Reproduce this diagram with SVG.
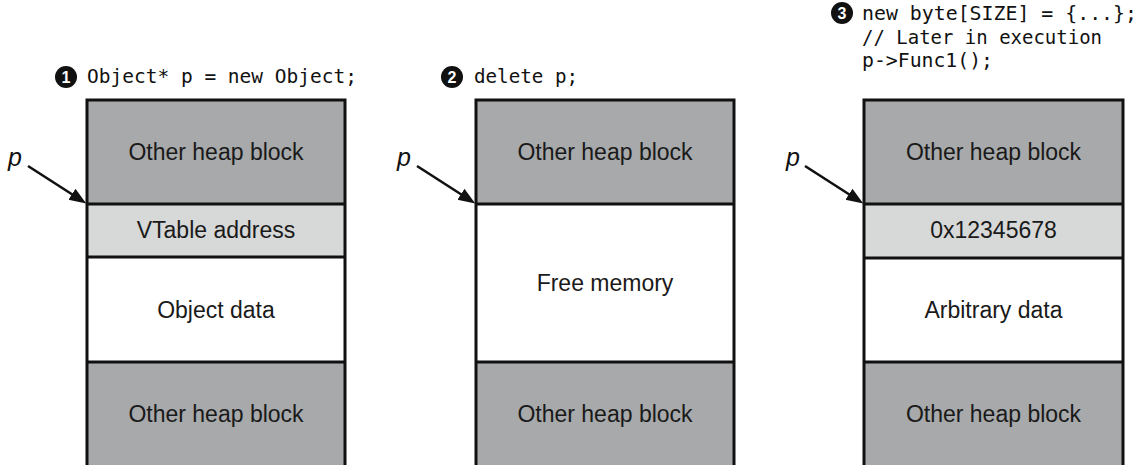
<svg xmlns="http://www.w3.org/2000/svg" width="1141" height="465" viewBox="0 0 1141 465">
  <defs>
    <style>
      .dark { fill: #a7a9aa; }
      .light { fill: #d7d8d8; }
      .white { fill: #ffffff; }
      .edge { fill: none; stroke: #111111; stroke-width: 3; }
      .lbl { font-family: "Liberation Sans", Arial, sans-serif; font-size: 23px; fill: #1a1a1a; text-anchor: middle; }
      .code { font-family: "DejaVu Sans Mono", "Liberation Mono", monospace; font-size: 20px; fill: #111111; }
      .num { font-family: "Liberation Sans", Arial, sans-serif; font-size: 16px; font-weight: bold; fill: #ffffff; text-anchor: middle; }
      .ptr { font-family: "Liberation Sans", Arial, sans-serif; font-size: 25px; font-style: italic; fill: #111111; }
      .arrow { stroke: #111111; stroke-width: 2.6; fill: none; }
    </style>
    <marker id="ah" markerUnits="userSpaceOnUse" markerWidth="18" markerHeight="14" refX="6" refY="6.5" orient="auto">
      <path d="M0,0 L17,6.5 L0,13 z" fill="#111111"/>
    </marker>
  </defs>
  <rect width="1141" height="465" fill="#ffffff"/>

  <!-- Column 1 -->
  <g id="label1">
    <circle cx="66" cy="77" r="11" fill="#111111"/>
    <text class="num" x="66" y="82.5">1</text>
    <text class="code" x="87" y="83" textLength="270" lengthAdjust="spacingAndGlyphs">Object* p = new Object;</text>
  </g>
  <g id="c1-top">
    <rect class="dark" x="87" y="100" width="258" height="104"/>
    <text class="lbl" x="216" y="160">Other heap block</text>
  </g>
  <g id="c1-vtable">
    <rect class="light" x="87" y="204" width="258" height="53"/>
    <text class="lbl" x="216" y="238">VTable address</text>
  </g>
  <g id="c1-data">
    <rect class="white" x="87" y="257" width="258" height="105"/>
    <text class="lbl" x="216" y="318">Object data</text>
  </g>
  <g id="c1-bottom">
    <rect class="dark" x="87" y="362" width="258" height="110"/>
    <text class="lbl" x="216" y="422">Other heap block</text>
  </g>
  <g id="c1-edges">
    <path class="edge" d="M87,467 V100 H345 V467"/>
    <line class="edge" x1="87" y1="204" x2="345" y2="204"/>
    <line class="edge" x1="87" y1="257" x2="345" y2="257"/>
    <line class="edge" x1="87" y1="362" x2="345" y2="362"/>
  </g>
  <g id="p1"><text class="ptr" x="8" y="166">p</text></g>

  <!-- Column 2 -->
  <g id="label2">
    <circle cx="452" cy="77" r="11" fill="#111111"/>
    <text class="num" x="452" y="82.5">2</text>
    <text class="code" x="474" y="83" textLength="104" lengthAdjust="spacingAndGlyphs">delete p;</text>
  </g>
  <g id="c2-top">
    <rect class="dark" x="476" y="100" width="258" height="104"/>
    <text class="lbl" x="605" y="160">Other heap block</text>
  </g>
  <g id="c2-free">
    <rect class="white" x="476" y="204" width="258" height="158"/>
    <text class="lbl" x="605" y="291">Free memory</text>
  </g>
  <g id="c2-bottom">
    <rect class="dark" x="476" y="362" width="258" height="110"/>
    <text class="lbl" x="605" y="422">Other heap block</text>
  </g>
  <g id="c2-edges">
    <path class="edge" d="M476,467 V100 H734 V467"/>
    <line class="edge" x1="476" y1="204" x2="734" y2="204"/>
    <line class="edge" x1="476" y1="362" x2="734" y2="362"/>
  </g>
  <g id="p2"><text class="ptr" x="397" y="166">p</text></g>

  <!-- Column 3 -->
  <g id="label3">
    <circle cx="842" cy="13" r="11" fill="#111111"/>
    <text class="num" x="842" y="18.5">3</text>
    <text class="code" x="862" y="20" textLength="275" lengthAdjust="spacingAndGlyphs">new byte[SIZE] = {...};</text>
    <text class="code" x="862" y="44" textLength="240" lengthAdjust="spacingAndGlyphs">// Later in execution</text>
    <text class="code" x="862" y="67" textLength="131" lengthAdjust="spacingAndGlyphs">p-&gt;Func1();</text>
  </g>
  <g id="c3-top">
    <rect class="dark" x="864" y="100" width="259" height="104"/>
    <text class="lbl" x="993.5" y="160">Other heap block</text>
  </g>
  <g id="c3-addr">
    <rect class="light" x="864" y="204" width="259" height="54"/>
    <text class="lbl" x="993.5" y="238">0x12345678</text>
  </g>
  <g id="c3-data">
    <rect class="white" x="864" y="258" width="259" height="104"/>
    <text class="lbl" x="993.5" y="318">Arbitrary data</text>
  </g>
  <g id="c3-bottom">
    <rect class="dark" x="864" y="362" width="259" height="110"/>
    <text class="lbl" x="993.5" y="422">Other heap block</text>
  </g>
  <g id="c3-edges">
    <path class="edge" d="M864,467 V100 H1123 V467"/>
    <line class="edge" x1="864" y1="204" x2="1123" y2="204"/>
    <line class="edge" x1="864" y1="258" x2="1123" y2="258"/>
    <line class="edge" x1="864" y1="362" x2="1123" y2="362"/>
  </g>
  <g id="p3"><text class="ptr" x="786" y="166">p</text></g>

  <!-- Connectors -->
  <g id="connectors">
    <line class="arrow" x1="28" y1="166" x2="77" y2="197.5" marker-end="url(#ah)"/>
    <line class="arrow" x1="417" y1="166" x2="466" y2="197.5" marker-end="url(#ah)"/>
    <line class="arrow" x1="805" y1="166" x2="854" y2="197.5" marker-end="url(#ah)"/>
  </g>
</svg>
